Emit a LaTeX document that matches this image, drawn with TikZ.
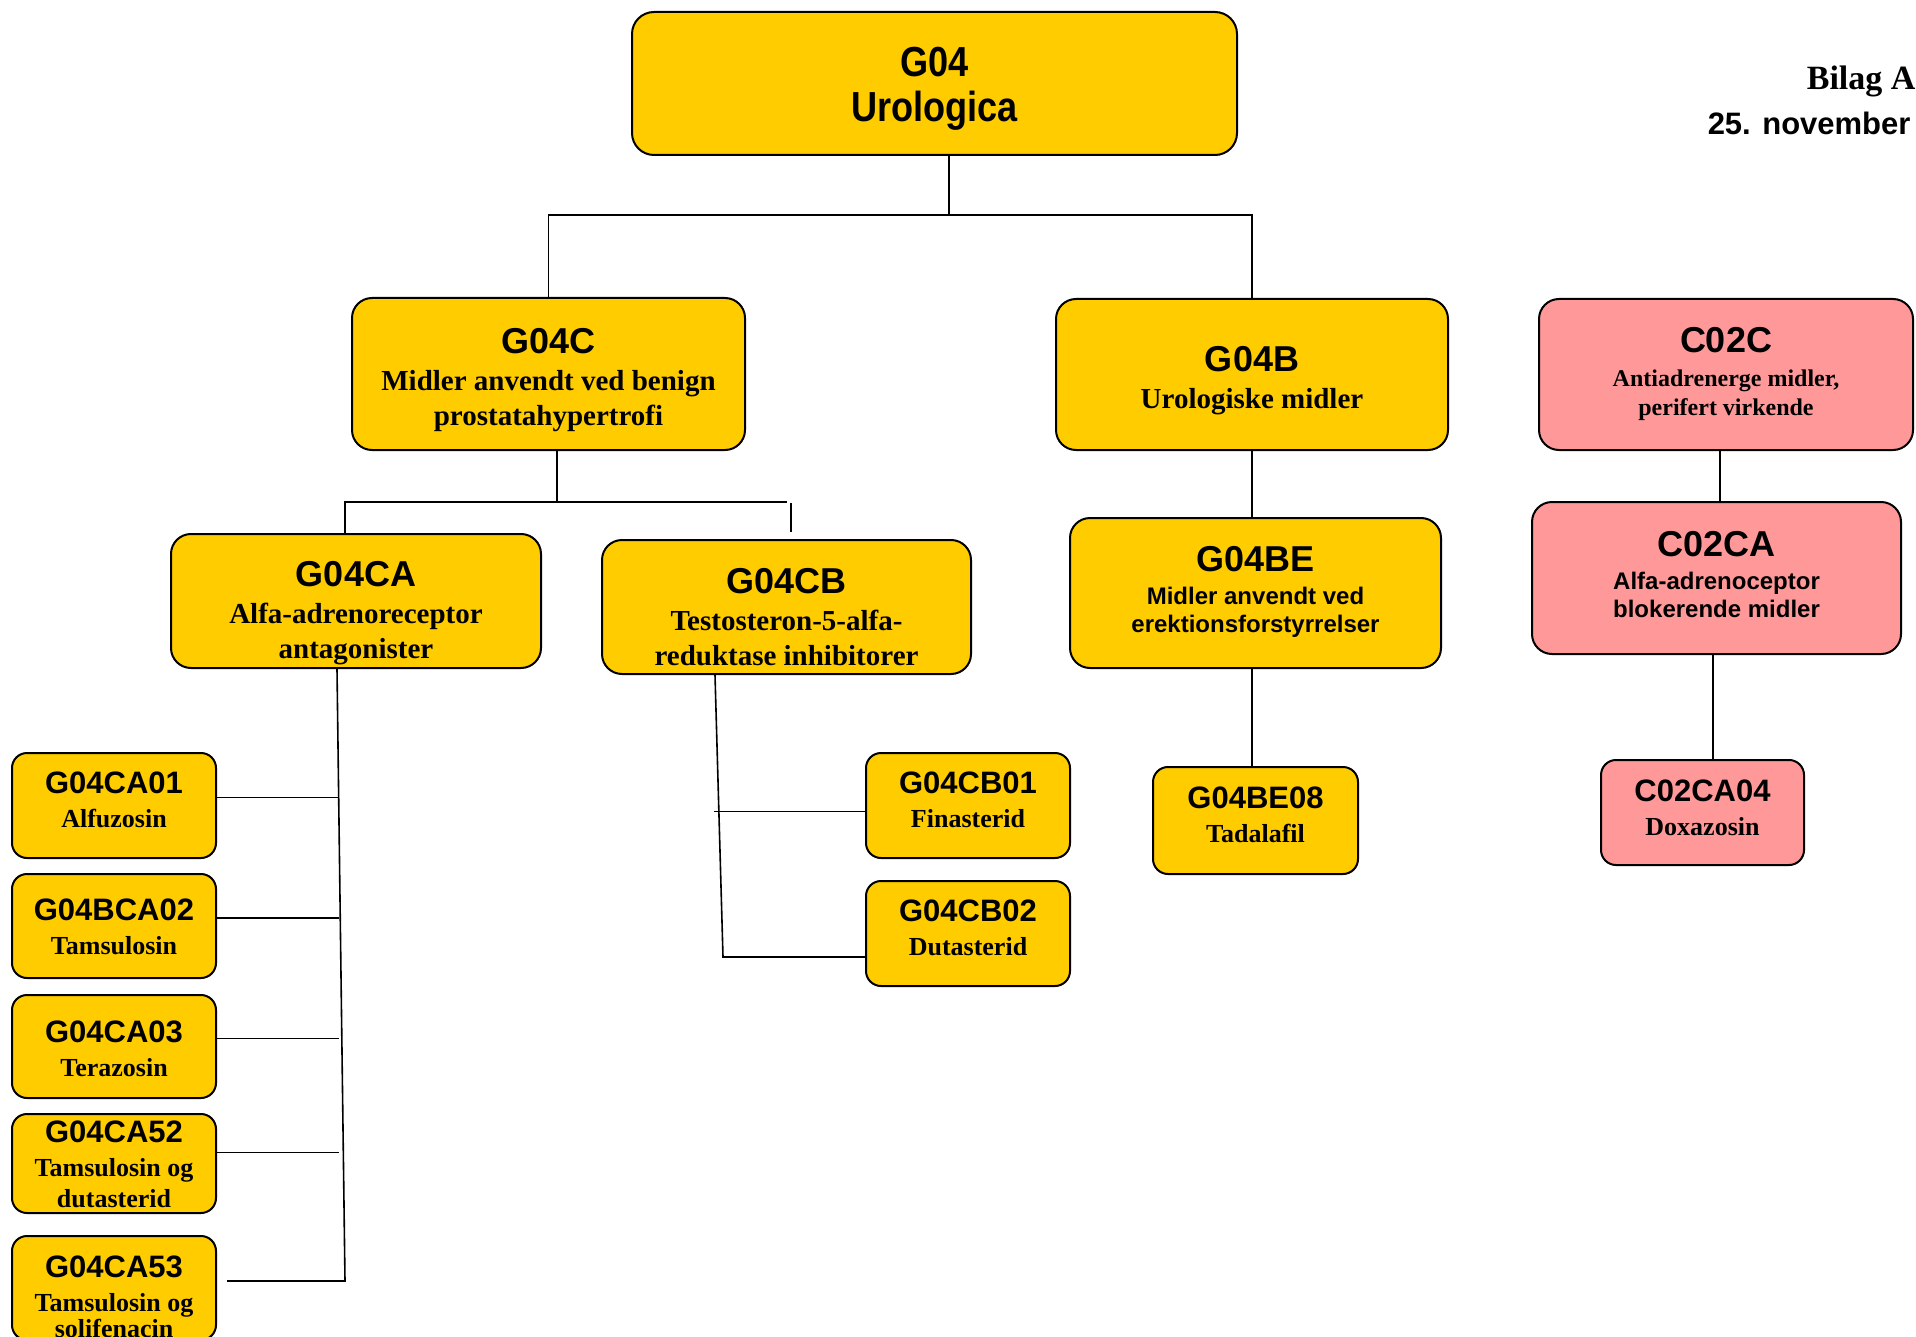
\documentclass[tikz,border=0pt]{standalone}
\usepackage{fontspec}
\setmainfont{Liberation Serif}
\setsansfont{Liberation Sans}
\newfontfamily\smalsans[FakeStretch=0.86]{Liberation Sans}
\usepackage{tikz}
\usepackage{xcolor}
\usetikzlibrary{calc}
\definecolor{atcgul}{HTML}{FFCC00}
\definecolor{atcrod}{HTML}{FF9999}
\definecolor{kant}{HTML}{000000}
\newcommand{\kodestor}{\sffamily\bfseries\fontsize{36}{40}\selectfont}
\newcommand{\kodelille}{\sffamily\bfseries\fontsize{31}{34}\selectfont}
\tikzset{
  atcbox/.style={draw=kant, line width=2pt, rounded corners=20pt, inner sep=0pt},
  gulboks/.style={atcbox, fill=atcgul},
  rodboks/.style={atcbox, fill=atcrod},
  smaboks/.style={minimum width=204pt, minimum height=104pt, rounded corners=15pt},
  tekst/.style={align=center, inner sep=0pt},
  serifstor/.style={tekst, font=\rmfamily\bfseries\fontsize{29}{35}\selectfont},
  seriflille/.style={tekst, font=\rmfamily\bfseries\fontsize{26}{31}\selectfont},
  serifrod/.style={tekst, font=\rmfamily\bfseries\fontsize{24}{29}\selectfont},
  sansbeskr/.style={tekst, font=\sffamily\bfseries\fontsize{24}{28}\selectfont},
  forbind/.style={draw=kant, line width=1.6pt}
}

\begin{document}
\begin{tikzpicture}[x=1pt, y=-1pt]
  \useasboundingbox (0,0) rectangle (1916,1337);

  % boxes
  \node[gulboks, rounded corners=22pt, minimum width=605pt, minimum height=143pt] (g04) at (934.5,83.5) {};
  \node[gulboks, minimum width=393pt, minimum height=152pt] (g04c) at (548.5,374) {};
  \node[gulboks, minimum width=392pt, minimum height=151pt] (g04b) at (1252,374.5) {};
  \node[rodboks, minimum width=374pt, minimum height=151pt] (c02c) at (1726,374.5) {};
  \node[gulboks, minimum width=370pt, minimum height=134pt] (g04ca) at (356,601) {};
  \node[gulboks, minimum width=369pt, minimum height=134pt] (g04cb) at (786.5,607) {};
  \node[gulboks, minimum width=371pt, minimum height=150pt] (g04be) at (1255.5,593) {};
  \node[rodboks, minimum width=369pt, minimum height=152pt] (c02ca) at (1716.5,578) {};
  \node[gulboks, smaboks, minimum height=105pt] (g04ca01) at (114,805.5) {};
  \node[gulboks, smaboks] (g04bca02) at (114,926) {};
  \node[gulboks, smaboks, minimum height=103pt] (g04ca03) at (114,1046.5) {};
  \node[gulboks, smaboks, minimum height=99pt] (g04ca52) at (114,1163.5) {};
  \node[gulboks, smaboks] (g04ca53) at (114,1288) {};
  \node[gulboks, smaboks, minimum height=105pt] (g04cb01) at (968,805.5) {};
  \node[gulboks, smaboks, minimum height=105pt] (g04cb02) at (968,933.5) {};
  \node[gulboks, smaboks, minimum width=205pt, minimum height=107pt] (g04be08) at (1255.5,820.5) {};
  \node[rodboks, smaboks, minimum width=203pt, minimum height=105pt] (c02ca04) at (1702.5,812.5) {};

  % texts
  \node[tekst, font=\smalsans\bfseries\fontsize{42}{45}\selectfont] (g04-t) at ($(g04)+(0,5)$) {G04\\Urologica};
  \node[serifstor] (g04c-t) at ($(g04c)+(0,6)$) {{\kodestor G04C}\\[2pt]Midler anvendt ved benign\\prostatahypertrofi};
  \node[serifstor] (g04b-t) at ($(g04b)+(0,6)$) {{\kodestor G04B}\\[2pt]Urologiske midler};
  \node[serifrod] (c02c-t) at ($(c02c)+(0,-1)$) {{\kodestor C02C}\\[5pt]Antiadrenerge midler,\\perifert virkende};
  \node[serifstor] (g04ca-t) at ($(g04ca)+(0,12)$) {{\kodestor G04CA}\\[2pt]Alfa-adrenoreceptor\\antagonister};
  \node[serifstor] (g04cb-t) at ($(g04cb)+(0,10)$) {{\kodestor G04CB}\\[2pt]Testosteron-5-alfa-\\reduktase inhibitorer};
  \node[sansbeskr] (g04be-t) at ($(g04be)+(0,-1)$) {{\kodestor G04BE}\\[5pt]Midler anvendt ved\\erektionsforstyrrelser};
  \node[sansbeskr] (c02ca-t) at ($(c02ca)+(0,-3)$) {{\kodestor C02CA}\\[5pt]Alfa-adrenoceptor\\blokerende midler};
  \node[seriflille] (g04ca01-t) at ($(g04ca01)+(0,-6)$) {{\kodelille G04CA01}\\[3pt]Alfuzosin};
  \node[seriflille] (g04bca02-t) at ($(g04bca02)+(0,1)$) {{\kodelille G04BCA02}\\[3pt]Tamsulosin};
  \node[seriflille] (g04ca03-t) at ($(g04ca03)+(0,2)$) {{\kodelille G04CA03}\\[3pt]Terazosin};
  \node[seriflille] (g04ca52-t) at ($(g04ca52)+(0,1)$) {{\kodelille G04CA52}\\[3pt]Tamsulosin og\\dutasterid};
  \node[seriflille] (g04ca53-t) at ($(g04ca53)+(0,9)$) {{\kodelille G04CA53}\\[3pt]Tamsulosin og\\[-5pt]solifenacin};
  \node[seriflille] (g04cb01-t) at ($(g04cb01)+(0,-6)$) {{\kodelille G04CB01}\\[3pt]Finasterid};
  \node[seriflille] (g04cb02-t) at ($(g04cb02)+(0,-6)$) {{\kodelille G04CB02}\\[3pt]Dutasterid};
  \node[seriflille] (g04be08-t) at ($(g04be08)+(0,-6)$) {{\kodelille G04BE08}\\[3pt]Tadalafil};
  \node[seriflille] (c02ca04-t) at ($(c02ca04)+(0,-5)$) {{\kodelille C02CA04}\\[3pt]Doxazosin};

  \node[anchor=base east, font=\rmfamily\bfseries\fontsize{34}{38}\selectfont] (bilag) at (1919,90) {Bilag A};
  \node[anchor=base east, font=\sffamily\bfseries\fontsize{31}{36}\selectfont] (dato) at (1914,135) {25. november};

  % connectors
  \coordinate (bus1) at (949,215);
  \draw[forbind] (g04.south -| bus1) -- (bus1);
  \draw[forbind] (g04c.north) |- (bus1) -| (g04b.north);

  \coordinate (bus2) at (557,502);
  \coordinate (bus2v) at (345,502);
  \coordinate (bus2h) at (787,502);
  \coordinate (cbstub) at (791,503);
  \draw[forbind] (g04c.south -| bus2) -- (bus2);
  \draw[forbind] (g04ca.north -| bus2v) -- (bus2v) -- (bus2h);
  \draw[forbind] (cbstub) -- ($(g04cb.north -| cbstub)+(0,-7)$);

  \coordinate (caline) at (337,0);
  \coordinate (cabund) at (345,1281);
  \draw[forbind] (g04ca.south -| caline) -- (cabund) -- ($(g04ca53.east |- cabund)+(10,0)$);
  \foreach \n/\dy in {g04ca01/8,g04bca02/8,g04ca03/8,g04ca52/11}
    \draw[forbind] ([yshift=\dy pt]\n.east) -- +(122,0);

  \coordinate (cbline) at (715,0);
  \coordinate (cbbund) at (723,957);
  \draw[forbind] (g04cb.south -| cbline) -- (cbbund) -- (g04cb02.west |- cbbund);
  \draw[forbind] ([yshift=-6pt]g04cb01.west) -- +(-151,0);

  \draw[forbind] (g04b.south) -- (g04b.south |- g04be.north);
  \draw[forbind] (g04be.south -| g04b.south) -- (g04be08.north -| g04b.south);

  \coordinate (c02line) at (1720,0);
  \coordinate (c02line2) at (1713,0);
  \draw[forbind] (c02c.south -| c02line) -- (c02ca.north -| c02line);
  \draw[forbind] (c02ca.south -| c02line2) -- (c02ca04.north -| c02line2);
\end{tikzpicture}
\end{document}
